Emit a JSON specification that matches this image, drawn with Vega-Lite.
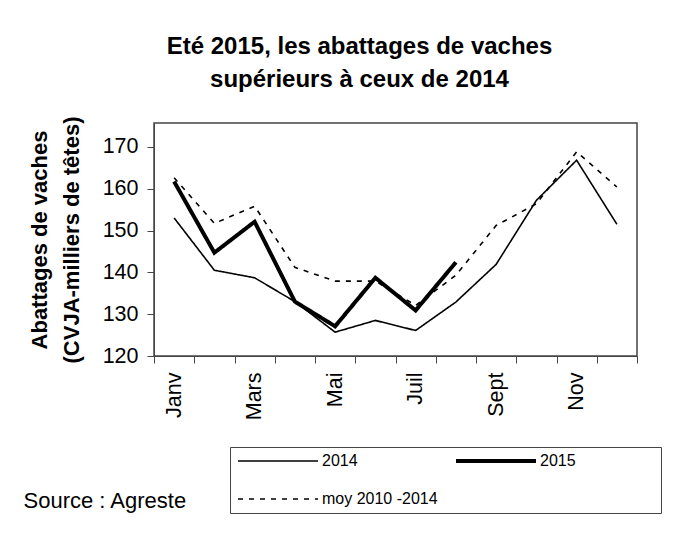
{
  "$schema": "https://vega.github.io/schema/vega-lite/v6.json",
  "width": 483,
  "height": 233,
  "autosize": {"type": "none"},
  "padding": {"left": 154, "top": 123, "right": 38, "bottom": 191},
  "background": "white",
  "config": {
    "font": "Liberation Sans",
    "view": {"stroke": "#444", "strokeWidth": 1.5}
  },
  "title": {
    "text": ["Eté 2015,  les abattages de vaches", "supérieurs à ceux de 2014"],
    "fontSize": 24,
    "fontWeight": "bold",
    "color": "black",
    "lineHeight": 33,
    "anchor": "middle",
    "dx": -36,
    "offset": 21
  },
  "data": {
    "values": [
      {"mois": "Janv", "serie": "2014", "valeur": 153.0},
      {"mois": "Févr", "serie": "2014", "valeur": 140.5},
      {"mois": "Mars", "serie": "2014", "valeur": 138.7},
      {"mois": "Avr", "serie": "2014", "valeur": 133.0},
      {"mois": "Mai", "serie": "2014", "valeur": 125.7},
      {"mois": "Juin", "serie": "2014", "valeur": 128.5},
      {"mois": "Juil", "serie": "2014", "valeur": 126.1},
      {"mois": "Août", "serie": "2014", "valeur": 132.9},
      {"mois": "Sept", "serie": "2014", "valeur": 141.9},
      {"mois": "Oct", "serie": "2014", "valeur": 157.2},
      {"mois": "Nov", "serie": "2014", "valeur": 166.8},
      {"mois": "Déc", "serie": "2014", "valeur": 151.5},
      {"mois": "Janv", "serie": "moy 2010 -2014", "valeur": 162.6},
      {"mois": "Févr", "serie": "moy 2010 -2014", "valeur": 151.7},
      {"mois": "Mars", "serie": "moy 2010 -2014", "valeur": 155.8},
      {"mois": "Avr", "serie": "moy 2010 -2014", "valeur": 141.2},
      {"mois": "Mai", "serie": "moy 2010 -2014", "valeur": 137.9},
      {"mois": "Juin", "serie": "moy 2010 -2014", "valeur": 137.9},
      {"mois": "Juil", "serie": "moy 2010 -2014", "valeur": 132.1},
      {"mois": "Août", "serie": "moy 2010 -2014", "valeur": 139.3},
      {"mois": "Sept", "serie": "moy 2010 -2014", "valeur": 151.2},
      {"mois": "Oct", "serie": "moy 2010 -2014", "valeur": 156.4},
      {"mois": "Nov", "serie": "moy 2010 -2014", "valeur": 168.8},
      {"mois": "Déc", "serie": "moy 2010 -2014", "valeur": 160.4},
      {"mois": "Janv", "serie": "2015", "valeur": 161.7},
      {"mois": "Févr", "serie": "2015", "valeur": 144.7},
      {"mois": "Mars", "serie": "2015", "valeur": 152.1},
      {"mois": "Avr", "serie": "2015", "valeur": 133.0},
      {"mois": "Mai", "serie": "2015", "valeur": 127.1},
      {"mois": "Juin", "serie": "2015", "valeur": 138.7},
      {"mois": "Juil", "serie": "2015", "valeur": 130.9},
      {"mois": "Août", "serie": "2015", "valeur": 142.4}
    ]
  },
  "mark": {"type": "line", "color": "black", "strokeJoin": "miter"},
  "encoding": {
    "x": {
      "field": "mois",
      "type": "ordinal",
      "sort": ["Janv", "Févr", "Mars", "Avr", "Mai", "Juin", "Juil", "Août", "Sept", "Oct", "Nov", "Déc"],
      "bandPosition": 0.5,
      "scale": {"type": "band", "paddingInner": 0, "paddingOuter": 0},
      "axis": {
        "title": "Source : Agreste",
        "titleX": -131,
        "titleY": 144,
        "titleAlign": "left",
        "titleBaseline": "middle",
        "titleFontSize": 22,
        "titleFontWeight": "normal",
        "titleColor": "black",
        "labelAngle": -90,
        "labelFontSize": 21.5,
        "labelColor": "black",
        "labelPadding": 9,
        "labelOverlap": false,
        "labelExpr": "indexof(['Janv','Mars','Mai','Juil','Sept','Nov'], datum.value) >= 0 ? datum.label : ''",
        "tickSize": 7,
        "tickBand": "extent",
        "tickColor": "#444",
        "domainColor": "#444",
        "grid": false
      }
    },
    "y": {
      "field": "valeur",
      "type": "quantitative",
      "scale": {"domain": [120, 175.7], "nice": false, "zero": false},
      "axis": {
        "title": ["Abattages de vaches", "(CVJA-milliers de  têtes)"],
        "titleFontSize": 22,
        "titleFontWeight": "bold",
        "titleLineHeight": 32,
        "titlePadding": 19,
        "titleColor": "black",
        "values": [120, 130, 140, 150, 160, 170],
        "labelFontSize": 21.5,
        "labelColor": "black",
        "labelPadding": 9,
        "labelFlush": false,
        "tickSize": 7,
        "tickColor": "#444",
        "domainColor": "#444",
        "grid": false
      }
    },
    "strokeDash": {
      "field": "serie",
      "type": "nominal",
      "scale": {"domain": ["2014", "moy 2010 -2014", "2015"], "range": [[1, 0], [5, 6], [1, 0]]},
      "legend": {
        "orient": "none",
        "legendX": 76,
        "legendY": 324,
        "columns": 2,
        "symbolType": "stroke",
        "symbolSize": 6400,
        "symbolStrokeColor": "black",
        "clipHeight": 16,
        "labelFontSize": 16,
        "labelColor": "black",
        "labelOffset": 2,
        "padding": 6,
        "rowPadding": 22,
        "columnPadding": 16,
        "strokeColor": "#444",
        "title": "\u00a0",
        "titleOrient": "right",
        "titleFontSize": 16,
        "titlePadding": 79
      }
    },
    "strokeWidth": {
      "field": "serie",
      "type": "nominal",
      "scale": {"type": "ordinal", "domain": ["2014", "moy 2010 -2014", "2015"], "range": [1.6, 1.6, 4]},
      "legend": {
        "orient": "none",
        "legendX": 76,
        "legendY": 324,
        "columns": 2,
        "symbolType": "stroke",
        "symbolSize": 6400,
        "symbolStrokeColor": "black",
        "clipHeight": 16,
        "labelFontSize": 16,
        "labelColor": "black",
        "labelOffset": 2,
        "padding": 6,
        "rowPadding": 22,
        "columnPadding": 16,
        "strokeColor": "#444",
        "title": "\u00a0",
        "titleOrient": "right",
        "titleFontSize": 16,
        "titlePadding": 79
      }
    }
  }
}
